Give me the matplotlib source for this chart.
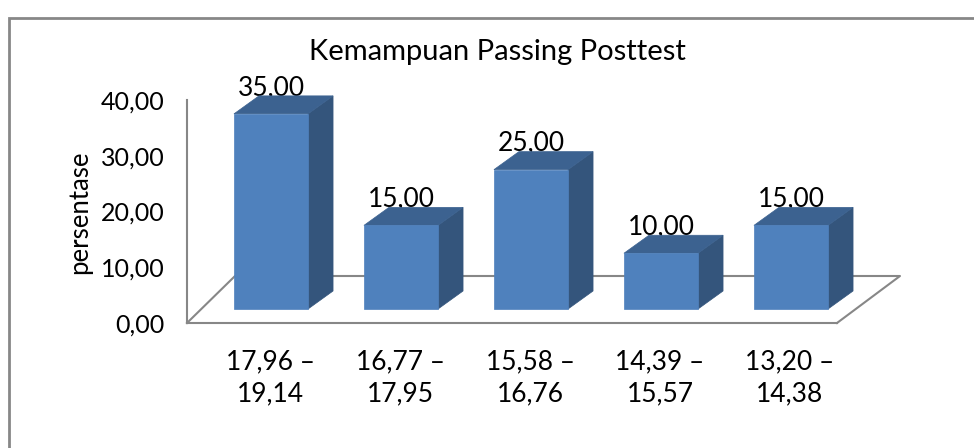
import matplotlib.pyplot as plt
import matplotlib.transforms as mtransforms
from matplotlib.patches import Polygon, Rectangle

plt.rcParams['font.family'] = ['Lato', 'DejaVu Sans']

# data
categories = ['17,96 –\n19,14', '16,77 –\n17,95', '15,58 –\n16,76',
              '14,39 –\n15,57', '13,20 –\n14,38']
values = [35.00, 15.00, 25.00, 10.00, 15.00]
y_ticks = [0, 10, 20, 30, 40]
title = 'Kemampuan Passing Posttest'
y_label = 'persentase'

# style (pixels)
FRONT = '#4F81BD'
SIDE = '#34557C'
TOP = '#3C6290'
BAR_W = 0.57
BAR_DX, BAR_DY = 19, 14      # bar front face behind the front floor edge
BOX_DX, BOX_DY = 25, 18      # bar depth
FLOOR_L, FLOOR_R, FLOOR_DY = 48, 63, 47

W, H = 974, 448
fig = plt.figure(figsize=(W / 100, H / 100), dpi=100)
ax = fig.add_axes([187 / W, 125 / H, 650 / W, 223 / H])
ax.set_xlim(-0.5, 4.5)
ax.set_ylim(0, 40)
ax.patch.set_alpha(0)

for s in ['top', 'right']:
    ax.spines[s].set_visible(False)
for s in ['left', 'bottom']:
    ax.spines[s].set_color('#878787')
    ax.spines[s].set_linewidth(1.5)
ax.set_xticks([])
ax.set_yticks(y_ticks)
ax.set_yticklabels([f'{v:.2f}'.replace('.', ',') for v in y_ticks], fontsize=18)
ax.tick_params(axis='y', length=0, pad=16)


def off(dx, dy):
    return mtransforms.offset_copy(ax.transData, fig=fig, x=dx, y=dy, units='dots')


inv = fig.transFigure.inverted()

# floor outline (front edge is the bottom spine)
p0 = ax.transData.transform((-0.5, 0))
p1 = ax.transData.transform((4.5, 0))
floor = inv.transform([p0, p0 + [FLOOR_L, FLOOR_DY], p1 + [FLOOR_R, FLOOR_DY], p1])
fig.add_artist(plt.Line2D(floor[:, 0], floor[:, 1], color='#878787', lw=1.5, zorder=1))

# bars
front_t = off(BAR_DX, BAR_DY)
for i, v in enumerate(values):
    x0, x1 = i - BAR_W / 2, i + BAR_W / 2
    a = front_t.transform([(x0, 0), (x1, 0), (x1, v), (x0, v)])
    d = [BOX_DX, BOX_DY]
    side = [a[1], a[1] + d, a[2] + d, a[2]]
    top = [a[3], a[2], a[2] + d, a[3] + d]
    for poly, col in [(side, SIDE), (top, TOP), (list(a), FRONT)]:
        fig.add_artist(Polygon(inv.transform(poly), closed=True, facecolor=col,
                               edgecolor=col, lw=0.5, zorder=3))
    ax.text(i, v, f'{v:.2f}'.replace('.', ','), transform=off(BAR_DX, BAR_DY + BOX_DY + 1),
            ha='center', va='baseline', fontsize=19, zorder=5)
    ax.text(i, 0, categories[i], transform=off(BAR_DX - 1, -55), ha='center', va='center',
            fontsize=19, linespacing=1.38)

fig.text(497 / W, 1 - 52 / H, title, ha='center', va='center', fontsize=21)
fig.text(80 / W, 1 - 212 / H, y_label, ha='center', va='center', rotation=90, fontsize=18.5)

# chart border
fig.add_artist(Rectangle((9 / W, -0.1), 1.2, (448 - 18) / H + 0.1, transform=fig.transFigure,
                         fill=False, edgecolor='#878787', lw=2))

fig.savefig('out.png', dpi=100)
